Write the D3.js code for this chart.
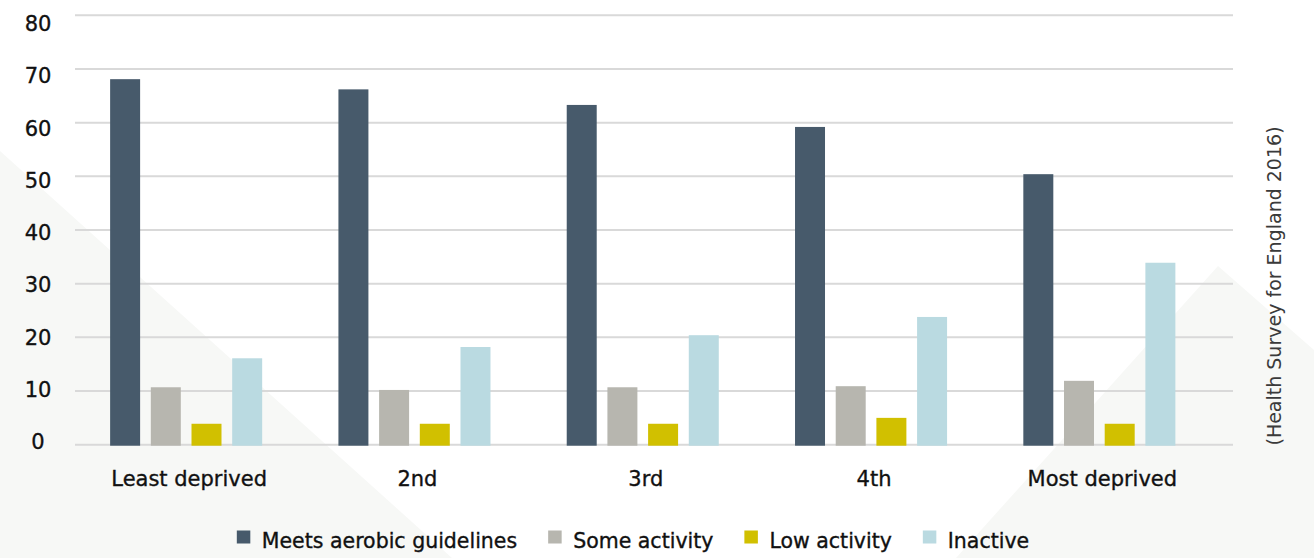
<!DOCTYPE html>
<html>
<head>
<meta charset="utf-8">
<script src="https://cdn.jsdelivr.net/npm/d3@7"></script>
<style>
  html, body { margin: 0; padding: 0; background: #fff; }
  svg { display: block; }
</style>
</head>
<body>
<svg id="chart"></svg>
<script>
'use strict';

// Physical activity by deprivation quintile (%)
var categories = ["Least deprived", "2nd", "3rd", "4th", "Most deprived"];
var seriesNames = ["Meets aerobic guidelines", "Some activity", "Low activity", "Inactive"];
var meetsAerobic = [68.1, 66.2, 63.3, 59.2, 50.4];
var someActivity = [10.7, 10.2, 10.7, 10.9, 11.9];
var lowActivity  = [3.9, 3.9, 3.9, 5.0, 3.9];
var inactive     = [16.1, 18.2, 20.4, 23.8, 33.9];
var yTicks = [0, 10, 20, 30, 40, 50, 60, 70, 80];
var sourceNote = "(Health Survey for England 2016)";

var seriesValues = [meetsAerobic, someActivity, lowActivity, inactive];
var seriesColors = ["#475a6b", "#b7b6af", "#d1c000", "#badae1"];

var WIDTH = 1314, HEIGHT = 558;
var FONT = "'DejaVu Sans', sans-serif";

var svg = d3.select("#chart")
  .attr("width", WIDTH)
  .attr("height", HEIGHT);

// soft background shapes
var bg = svg.append("g");
bg.append("path")
  .attr("d", "M0,151 L452,558 L0,558 Z")
  .style("fill", "#f7f8f6");
bg.append("path")
  .attr("d", "M956,558 L1218,266 L1314,350 L1314,558 Z")
  .style("fill", "#f7f8f6");

var y = d3.scaleLinear().domain([0, 80]).range([444.7, 15.3]);
// tick labels sit on a slightly tighter spacing than the grid lines
var yLabel = d3.scaleLinear().domain([0, 80]).range([449.3, 31]);

var x0 = d3.scaleBand()
  .domain(categories)
  .range([72, 1213.5])
  .paddingInner(0.334)
  .paddingOuter(0.167);

var x1 = d3.scaleBand()
  .domain(seriesNames)
  .range([0, x0.bandwidth()])
  .paddingInner(0.263);

// slightly heavier text, the original face is a medium weight
function labelStyle(sel, size) {
  sel.style("font-family", FONT)
    .style("font-size", size)
    .style("fill", "#111")
    .style("stroke", "#111")
    .style("stroke-width", 0.35);
}

// grid lines
svg.append("g")
  .selectAll("line")
  .data(yTicks)
  .join("line")
  .attr("x1", 75)
  .attr("x2", 1233)
  .attr("y1", function (d) { return y(d); })
  .attr("y2", function (d) { return y(d); })
  .style("stroke", "#d9d9d9")
  .style("stroke-width", 2);

// y tick labels
svg.append("g")
  .selectAll("text")
  .data(yTicks)
  .join("text")
  .attr("x", 38)
  .attr("y", function (d) { return yLabel(d); })
  .call(labelStyle, "21px")
  .style("text-anchor", "middle")
  .text(function (d) { return d; });

// bars
var groups = svg.append("g")
  .selectAll("g")
  .data(categories)
  .join("g")
  .attr("transform", function (d) { return "translate(" + x0(d) + ",0)"; });

groups.selectAll("rect")
  .data(function (d, i) {
    return seriesNames.map(function (s, j) {
      return { series: s, value: seriesValues[j][i], color: seriesColors[j] };
    });
  })
  .join("rect")
  .attr("x", function (d) { return x1(d.series); })
  .attr("y", function (d) { return y(d.value); })
  .attr("width", x1.bandwidth())
  .attr("height", function (d) { return y(0) - y(d.value) + 1; })
  .style("fill", function (d) { return d.color; });

// category labels
svg.append("g")
  .selectAll("text")
  .data(categories)
  .join("text")
  .attr("x", function (d) { return x0(d) + x0.bandwidth() / 2 + 3; })
  .attr("y", 486)
  .call(labelStyle, "21px")
  .style("text-anchor", "middle")
  .text(function (d) { return d; });

// source note, rotated
svg.append("text")
  .attr("transform", "translate(1281,286) rotate(-90)")
  .style("font-family", FONT)
  .style("font-size", "19px")
  .style("text-anchor", "middle")
  .style("fill", "#3a3a3a")
  .text(sourceNote);

// legend: lay items out by measured width, then centre the row
var legend = svg.append("g");
var items = legend.selectAll("g")
  .data(seriesNames)
  .join("g");

items.append("rect")
  .attr("x", 0)
  .attr("y", 530.5)
  .attr("width", 13.5)
  .attr("height", 13)
  .style("fill", function (d, i) { return seriesColors[i]; });

items.append("text")
  .attr("x", 25)
  .attr("y", 547.5)
  .call(labelStyle, "20.5px")
  .text(function (d) { return d; });

var GAP = 31;
var cursor = 0;
items.each(function () {
  var g = d3.select(this);
  g.attr("transform", "translate(" + cursor + ",0)");
  cursor += 25 + g.select("text").node().getComputedTextLength() + GAP;
});
var legendWidth = cursor - GAP;
legend.attr("transform", "translate(" + (633 - legendWidth / 2) + ",0)");
</script>
</body>
</html>
